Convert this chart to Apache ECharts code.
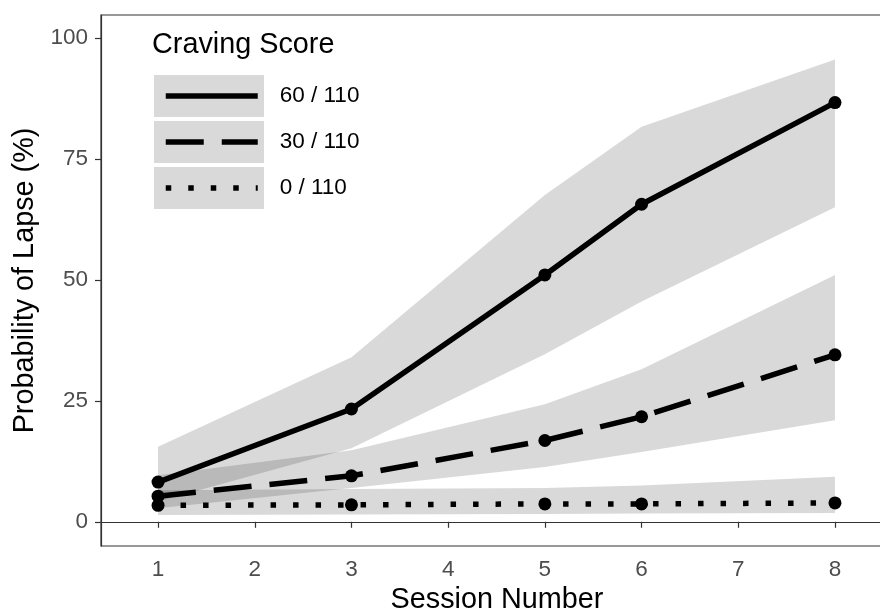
<!DOCTYPE html>
<html>
<head>
<meta charset="utf-8">
<script src="https://cdn.jsdelivr.net/npm/echarts@6/dist/echarts.min.js"></script>
<style>
  html, body { margin: 0; padding: 0; background: #fff; }
  #chart { width: 880px; height: 615px; }
</style>
</head>
<body>
<div id="chart"></div>
<script>
// sessions
const sessions = [1, 3, 5, 6, 8];
const xTicks = [1, 2, 3, 4, 5, 6, 7, 8];
const yTicks = [0, 25, 50, 75, 100];

// craving 60 / 110
const high = [8.2, 23.3, 51.0, 65.6, 86.6];
const highLo = [4.2, 15.2, 34.6, 45.5, 65.0];
const highHi = [15.5, 34.0, 67.5, 81.6, 95.5];
// craving 30 / 110
const mid = [5.3, 9.5, 16.8, 21.7, 34.5];
const midLo = [2.8, 7.0, 11.3, 14.4, 21.0];
const midHi = [9.6, 14.8, 24.3, 31.5, 51.0];
// craving 0 / 110
const low = [3.4, 3.5, 3.7, 3.7, 3.9];
const lowLo = [1.4, 1.5, 1.6, 1.7, 1.8];
const lowHi = [6.5, 6.8, 7.0, 7.5, 9.3];

const names = ['60 / 110', '30 / 110', '0 / 110'];
const dashes = ['solid', [38, 18], [5.5, 17]];

const pairs = arr => arr.map((v, i) => [sessions[i], v]);

// confidence ribbon, one polygon per band
function band(lo, hi) {
  return {
    type: 'custom', silent: true, z: 1,
    data: sessions.map((s, i) => [s, lo[i], hi[i]]),
    encode: { x: 0, y: [1, 2] },
    renderItem: (params, api) => {
      if (params.dataIndex !== 0) return null;
      let top = sessions.map((s, i) => api.coord([s, hi[i]]));
      let bottom = sessions.map((s, i) => api.coord([s, lo[i]])).reverse();
      return {
        type: 'polygon',
        shape: { points: top.concat(bottom) },
        style: { fill: 'rgba(0,0,0,0.15)' }
      };
    }
  };
}

function curve(name, vals, dash) {
  return [
    {
      name: name, type: 'line', data: pairs(vals), symbol: 'none', z: 3,
      itemStyle: { color: '#000' },
      lineStyle: { color: '#000', width: 5.5, type: dash, cap: 'butt' }
    },
    {
      name: name + ' pts', type: 'scatter', data: pairs(vals), symbol: 'circle', symbolSize: 13, z: 4,
      itemStyle: { color: '#000', opacity: 1 }
    }
  ];
}

const axisCol = '#333333';
const labCol = '#4d4d4d';
const font = 'Liberation Sans, Arial, sans-serif';

let myChart = echarts.init(document.getElementById('chart'));
myChart.setOption({
  animation: false,
  textStyle: { fontFamily: font },
  grid: {
    left: 101, top: 15, width: 792, height: 531,
    outerBoundsMode: 'none',
    show: true, borderColor: axisCol, borderWidth: 1.2, backgroundColor: 'transparent'
  },
  title: {
    text: 'Craving Score', left: 152, top: 31, padding: 0,
    textStyle: { fontSize: 28.8, fontWeight: 'normal', color: '#000', fontFamily: font }
  },
  graphic: [
    { type: 'rect', z: 0, shape: { x: 154, y: 75, width: 110, height: 42 }, style: { fill: '#d9d9d9' } },
    { type: 'rect', z: 0, shape: { x: 154, y: 121, width: 110, height: 42 }, style: { fill: '#d9d9d9' } },
    { type: 'rect', z: 0, shape: { x: 154, y: 167, width: 110, height: 42 }, style: { fill: '#d9d9d9' } }
  ],
  legend: {
    orient: 'vertical', left: 163, top: 75, padding: 0, z: 5,
    itemWidth: 92, itemHeight: 42, itemGap: 4,
    data: names.map((n, i) => ({
      name: n,
      itemStyle: { opacity: 0 },
      lineStyle: { color: '#000', width: 5.5, type: dashes[i], cap: 'butt' }
    })),
    textStyle: { fontSize: 22.5, lineHeight: 42, color: '#000', padding: [0, 0, 0, 17], fontFamily: font }
  },
  xAxis: {
    type: 'value', min: 0.41, max: 8.6,
    name: 'Session Number', nameLocation: 'middle', nameGap: 40,
    nameTextStyle: { fontSize: 28.8, color: '#000', fontFamily: font },
    axisLine: { show: true, lineStyle: { color: axisCol, width: 1.2 } },
    axisTick: { show: true, length: 6, customValues: xTicks, lineStyle: { color: axisCol, width: 1.2 } },
    axisLabel: { customValues: xTicks, fontSize: 22.5, color: labCol, margin: 12, fontFamily: font },
    splitLine: { show: false }
  },
  yAxis: {
    type: 'value', min: -5, max: 104.7,
    name: 'Probability of Lapse (%)', nameLocation: 'middle', nameGap: 58, nameRotate: 90,
    nameTextStyle: { fontSize: 28.8, color: '#000', fontFamily: font },
    axisLine: { show: true, lineStyle: { color: axisCol, width: 1.2 } },
    axisTick: { show: true, length: 6, customValues: yTicks, lineStyle: { color: axisCol, width: 1.2 } },
    axisLabel: { customValues: yTicks, fontSize: 22.5, color: labCol, margin: 13, fontFamily: font },
    splitLine: { show: false }
  },
  series: [
    band(highLo, highHi),
    band(midLo, midHi),
    band(lowLo, lowHi)
  ].concat(
    curve(names[0], high, dashes[0]),
    curve(names[1], mid, dashes[1]),
    curve(names[2], low, dashes[2])
  )
});
</script>
</body>
</html>
